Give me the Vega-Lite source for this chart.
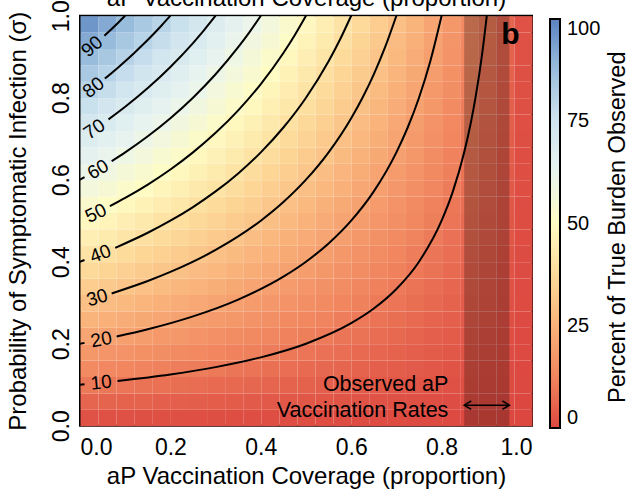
{
"$schema":"https://vega.github.io/schema/vega-lite/v6.json",
"width":452,"height":410,
"autosize":{"type":"none"},
"padding":{"left":80,"top":15.7,"right":99,"bottom":64.3},
"config":{"font":"Liberation Sans","view":{"stroke":"black","strokeWidth":2},
"axis":{"grid":false,"ticks":false,"tickSize":0,"domain":false,"labelColor":"black","titleColor":"black","titleFontWeight":"normal"}},
"datasets":{
"grid":[
{"x":0,"y":0,"v":2},{"x":0.04,"y":0,"v":1.9},{"x":0.08,"y":0,"v":1.8},{"x":0.12,"y":0,"v":1.7},{"x":0.16,"y":0,"v":1.6},{"x":0.2,"y":0,"v":1.6},{"x":0.24,"y":0,"v":1.5},{"x":0.28,"y":0,"v":1.4},{"x":0.32,"y":0,"v":1.3},{"x":0.36,"y":0,"v":1.2},{"x":0.4,"y":0,"v":1.2},{"x":0.44,"y":0,"v":1.1},{"x":0.48,"y":0,"v":1},{"x":0.52,"y":0,"v":0.9},{"x":0.56,"y":0,"v":0.8},{"x":0.6,"y":0,"v":0.8},{"x":0.64,"y":0,"v":0.7},{"x":0.68,"y":0,"v":0.6},{"x":0.72,"y":0,"v":0.5},{"x":0.76,"y":0,"v":0.4},{"x":0.8,"y":0,"v":0.4},{"x":0.84,"y":0,"v":0.3},{"x":0.88,"y":0,"v":0.2},{"x":0.92,"y":0,"v":0.1},{"x":0.96,"y":0,"v":0},
{"x":0,"y":0.04,"v":5.9},{"x":0.04,"y":0.04,"v":5.6},{"x":0.08,"y":0.04,"v":5.4},{"x":0.12,"y":0.04,"v":5.2},{"x":0.16,"y":0.04,"v":4.9},{"x":0.2,"y":0.04,"v":4.7},{"x":0.24,"y":0.04,"v":4.4},{"x":0.28,"y":0.04,"v":4.2},{"x":0.32,"y":0.04,"v":4},{"x":0.36,"y":0.04,"v":3.7},{"x":0.4,"y":0.04,"v":3.5},{"x":0.44,"y":0.04,"v":3.2},{"x":0.48,"y":0.04,"v":3},{"x":0.52,"y":0.04,"v":2.8},{"x":0.56,"y":0.04,"v":2.5},{"x":0.6,"y":0.04,"v":2.3},{"x":0.64,"y":0.04,"v":2},{"x":0.68,"y":0.04,"v":1.8},{"x":0.72,"y":0.04,"v":1.6},{"x":0.76,"y":0.04,"v":1.3},{"x":0.8,"y":0.04,"v":1.1},{"x":0.84,"y":0.04,"v":0.8},{"x":0.88,"y":0.04,"v":0.6},{"x":0.92,"y":0.04,"v":0.4},{"x":0.96,"y":0.04,"v":0.1},
{"x":0,"y":0.08,"v":9.8},{"x":0.04,"y":0.08,"v":9.4},{"x":0.08,"y":0.08,"v":9},{"x":0.12,"y":0.08,"v":8.6},{"x":0.16,"y":0.08,"v":8.2},{"x":0.2,"y":0.08,"v":7.8},{"x":0.24,"y":0.08,"v":7.4},{"x":0.28,"y":0.08,"v":7},{"x":0.32,"y":0.08,"v":6.6},{"x":0.36,"y":0.08,"v":6.2},{"x":0.4,"y":0.08,"v":5.8},{"x":0.44,"y":0.08,"v":5.4},{"x":0.48,"y":0.08,"v":5},{"x":0.52,"y":0.08,"v":4.6},{"x":0.56,"y":0.08,"v":4.2},{"x":0.6,"y":0.08,"v":3.8},{"x":0.64,"y":0.08,"v":3.4},{"x":0.68,"y":0.08,"v":3},{"x":0.72,"y":0.08,"v":2.6},{"x":0.76,"y":0.08,"v":2.2},{"x":0.8,"y":0.08,"v":1.8},{"x":0.84,"y":0.08,"v":1.4},{"x":0.88,"y":0.08,"v":1},{"x":0.92,"y":0.08,"v":0.6},{"x":0.96,"y":0.08,"v":0.2},
{"x":0,"y":0.12,"v":13.7},{"x":0.04,"y":0.12,"v":13.2},{"x":0.08,"y":0.12,"v":12.6},{"x":0.12,"y":0.12,"v":12},{"x":0.16,"y":0.12,"v":11.5},{"x":0.2,"y":0.12,"v":10.9},{"x":0.24,"y":0.12,"v":10.4},{"x":0.28,"y":0.12,"v":9.8},{"x":0.32,"y":0.12,"v":9.2},{"x":0.36,"y":0.12,"v":8.7},{"x":0.4,"y":0.12,"v":8.1},{"x":0.44,"y":0.12,"v":7.6},{"x":0.48,"y":0.12,"v":7},{"x":0.52,"y":0.12,"v":6.4},{"x":0.56,"y":0.12,"v":5.9},{"x":0.6,"y":0.12,"v":5.3},{"x":0.64,"y":0.12,"v":4.8},{"x":0.68,"y":0.12,"v":4.2},{"x":0.72,"y":0.12,"v":3.6},{"x":0.76,"y":0.12,"v":3.1},{"x":0.8,"y":0.12,"v":2.5},{"x":0.84,"y":0.12,"v":2},{"x":0.88,"y":0.12,"v":1.4},{"x":0.92,"y":0.12,"v":0.8},{"x":0.96,"y":0.12,"v":0.3},
{"x":0,"y":0.16,"v":17.6},{"x":0.04,"y":0.16,"v":16.9},{"x":0.08,"y":0.16,"v":16.2},{"x":0.12,"y":0.16,"v":15.5},{"x":0.16,"y":0.16,"v":14.8},{"x":0.2,"y":0.16,"v":14},{"x":0.24,"y":0.16,"v":13.3},{"x":0.28,"y":0.16,"v":12.6},{"x":0.32,"y":0.16,"v":11.9},{"x":0.36,"y":0.16,"v":11.2},{"x":0.4,"y":0.16,"v":10.4},{"x":0.44,"y":0.16,"v":9.7},{"x":0.48,"y":0.16,"v":9},{"x":0.52,"y":0.16,"v":8.3},{"x":0.56,"y":0.16,"v":7.6},{"x":0.6,"y":0.16,"v":6.8},{"x":0.64,"y":0.16,"v":6.1},{"x":0.68,"y":0.16,"v":5.4},{"x":0.72,"y":0.16,"v":4.7},{"x":0.76,"y":0.16,"v":4},{"x":0.8,"y":0.16,"v":3.2},{"x":0.84,"y":0.16,"v":2.5},{"x":0.88,"y":0.16,"v":1.8},{"x":0.92,"y":0.16,"v":1.1},{"x":0.96,"y":0.16,"v":0.4},
{"x":0,"y":0.2,"v":21.6},{"x":0.04,"y":0.2,"v":20.7},{"x":0.08,"y":0.2,"v":19.8},{"x":0.12,"y":0.2,"v":18.9},{"x":0.16,"y":0.2,"v":18},{"x":0.2,"y":0.2,"v":17.2},{"x":0.24,"y":0.2,"v":16.3},{"x":0.28,"y":0.2,"v":15.4},{"x":0.32,"y":0.2,"v":14.5},{"x":0.36,"y":0.2,"v":13.6},{"x":0.4,"y":0.2,"v":12.8},{"x":0.44,"y":0.2,"v":11.9},{"x":0.48,"y":0.2,"v":11},{"x":0.52,"y":0.2,"v":10.1},{"x":0.56,"y":0.2,"v":9.2},{"x":0.6,"y":0.2,"v":8.4},{"x":0.64,"y":0.2,"v":7.5},{"x":0.68,"y":0.2,"v":6.6},{"x":0.72,"y":0.2,"v":5.7},{"x":0.76,"y":0.2,"v":4.8},{"x":0.8,"y":0.2,"v":4},{"x":0.84,"y":0.2,"v":3.1},{"x":0.88,"y":0.2,"v":2.2},{"x":0.92,"y":0.2,"v":1.3},{"x":0.96,"y":0.2,"v":0.4},
{"x":0,"y":0.24,"v":25.5},{"x":0.04,"y":0.24,"v":24.4},{"x":0.08,"y":0.24,"v":23.4},{"x":0.12,"y":0.24,"v":22.4},{"x":0.16,"y":0.24,"v":21.3},{"x":0.2,"y":0.24,"v":20.3},{"x":0.24,"y":0.24,"v":19.2},{"x":0.28,"y":0.24,"v":18.2},{"x":0.32,"y":0.24,"v":17.2},{"x":0.36,"y":0.24,"v":16.1},{"x":0.4,"y":0.24,"v":15.1},{"x":0.44,"y":0.24,"v":14},{"x":0.48,"y":0.24,"v":13},{"x":0.52,"y":0.24,"v":12},{"x":0.56,"y":0.24,"v":10.9},{"x":0.6,"y":0.24,"v":9.9},{"x":0.64,"y":0.24,"v":8.8},{"x":0.68,"y":0.24,"v":7.8},{"x":0.72,"y":0.24,"v":6.8},{"x":0.76,"y":0.24,"v":5.7},{"x":0.8,"y":0.24,"v":4.7},{"x":0.84,"y":0.24,"v":3.6},{"x":0.88,"y":0.24,"v":2.6},{"x":0.92,"y":0.24,"v":1.6},{"x":0.96,"y":0.24,"v":0.5},
{"x":0,"y":0.28,"v":29.4},{"x":0.04,"y":0.28,"v":28.2},{"x":0.08,"y":0.28,"v":27},{"x":0.12,"y":0.28,"v":25.8},{"x":0.16,"y":0.28,"v":24.6},{"x":0.2,"y":0.28,"v":23.4},{"x":0.24,"y":0.28,"v":22.2},{"x":0.28,"y":0.28,"v":21},{"x":0.32,"y":0.28,"v":19.8},{"x":0.36,"y":0.28,"v":18.6},{"x":0.4,"y":0.28,"v":17.4},{"x":0.44,"y":0.28,"v":16.2},{"x":0.48,"y":0.28,"v":15},{"x":0.52,"y":0.28,"v":13.8},{"x":0.56,"y":0.28,"v":12.6},{"x":0.6,"y":0.28,"v":11.4},{"x":0.64,"y":0.28,"v":10.2},{"x":0.68,"y":0.28,"v":9},{"x":0.72,"y":0.28,"v":7.8},{"x":0.76,"y":0.28,"v":6.6},{"x":0.8,"y":0.28,"v":5.4},{"x":0.84,"y":0.28,"v":4.2},{"x":0.88,"y":0.28,"v":3},{"x":0.92,"y":0.28,"v":1.8},{"x":0.96,"y":0.28,"v":0.6},
{"x":0,"y":0.32,"v":33.3},{"x":0.04,"y":0.32,"v":32},{"x":0.08,"y":0.32,"v":30.6},{"x":0.12,"y":0.32,"v":29.2},{"x":0.16,"y":0.32,"v":27.9},{"x":0.2,"y":0.32,"v":26.5},{"x":0.24,"y":0.32,"v":25.2},{"x":0.28,"y":0.32,"v":23.8},{"x":0.32,"y":0.32,"v":22.4},{"x":0.36,"y":0.32,"v":21.1},{"x":0.4,"y":0.32,"v":19.7},{"x":0.44,"y":0.32,"v":18.4},{"x":0.48,"y":0.32,"v":17},{"x":0.52,"y":0.32,"v":15.6},{"x":0.56,"y":0.32,"v":14.3},{"x":0.6,"y":0.32,"v":12.9},{"x":0.64,"y":0.32,"v":11.6},{"x":0.68,"y":0.32,"v":10.2},{"x":0.72,"y":0.32,"v":8.8},{"x":0.76,"y":0.32,"v":7.5},{"x":0.8,"y":0.32,"v":6.1},{"x":0.84,"y":0.32,"v":4.8},{"x":0.88,"y":0.32,"v":3.4},{"x":0.92,"y":0.32,"v":2},{"x":0.96,"y":0.32,"v":0.7},
{"x":0,"y":0.36,"v":37.2},{"x":0.04,"y":0.36,"v":35.7},{"x":0.08,"y":0.36,"v":34.2},{"x":0.12,"y":0.36,"v":32.7},{"x":0.16,"y":0.36,"v":31.2},{"x":0.2,"y":0.36,"v":29.6},{"x":0.24,"y":0.36,"v":28.1},{"x":0.28,"y":0.36,"v":26.6},{"x":0.32,"y":0.36,"v":25.1},{"x":0.36,"y":0.36,"v":23.6},{"x":0.4,"y":0.36,"v":22},{"x":0.44,"y":0.36,"v":20.5},{"x":0.48,"y":0.36,"v":19},{"x":0.52,"y":0.36,"v":17.5},{"x":0.56,"y":0.36,"v":16},{"x":0.6,"y":0.36,"v":14.4},{"x":0.64,"y":0.36,"v":12.9},{"x":0.68,"y":0.36,"v":11.4},{"x":0.72,"y":0.36,"v":9.9},{"x":0.76,"y":0.36,"v":8.4},{"x":0.8,"y":0.36,"v":6.8},{"x":0.84,"y":0.36,"v":5.3},{"x":0.88,"y":0.36,"v":3.8},{"x":0.92,"y":0.36,"v":2.3},{"x":0.96,"y":0.36,"v":0.8},
{"x":0,"y":0.4,"v":41.2},{"x":0.04,"y":0.4,"v":39.5},{"x":0.08,"y":0.4,"v":37.8},{"x":0.12,"y":0.4,"v":36.1},{"x":0.16,"y":0.4,"v":34.4},{"x":0.2,"y":0.4,"v":32.8},{"x":0.24,"y":0.4,"v":31.1},{"x":0.28,"y":0.4,"v":29.4},{"x":0.32,"y":0.4,"v":27.7},{"x":0.36,"y":0.4,"v":26},{"x":0.4,"y":0.4,"v":24.4},{"x":0.44,"y":0.4,"v":22.7},{"x":0.48,"y":0.4,"v":21},{"x":0.52,"y":0.4,"v":19.3},{"x":0.56,"y":0.4,"v":17.6},{"x":0.6,"y":0.4,"v":16},{"x":0.64,"y":0.4,"v":14.3},{"x":0.68,"y":0.4,"v":12.6},{"x":0.72,"y":0.4,"v":10.9},{"x":0.76,"y":0.4,"v":9.2},{"x":0.8,"y":0.4,"v":7.6},{"x":0.84,"y":0.4,"v":5.9},{"x":0.88,"y":0.4,"v":4.2},{"x":0.92,"y":0.4,"v":2.5},{"x":0.96,"y":0.4,"v":0.8},
{"x":0,"y":0.44,"v":45.1},{"x":0.04,"y":0.44,"v":43.2},{"x":0.08,"y":0.44,"v":41.4},{"x":0.12,"y":0.44,"v":39.6},{"x":0.16,"y":0.44,"v":37.7},{"x":0.2,"y":0.44,"v":35.9},{"x":0.24,"y":0.44,"v":34},{"x":0.28,"y":0.44,"v":32.2},{"x":0.32,"y":0.44,"v":30.4},{"x":0.36,"y":0.44,"v":28.5},{"x":0.4,"y":0.44,"v":26.7},{"x":0.44,"y":0.44,"v":24.8},{"x":0.48,"y":0.44,"v":23},{"x":0.52,"y":0.44,"v":21.2},{"x":0.56,"y":0.44,"v":19.3},{"x":0.6,"y":0.44,"v":17.5},{"x":0.64,"y":0.44,"v":15.6},{"x":0.68,"y":0.44,"v":13.8},{"x":0.72,"y":0.44,"v":12},{"x":0.76,"y":0.44,"v":10.1},{"x":0.8,"y":0.44,"v":8.3},{"x":0.84,"y":0.44,"v":6.4},{"x":0.88,"y":0.44,"v":4.6},{"x":0.92,"y":0.44,"v":2.8},{"x":0.96,"y":0.44,"v":0.9},
{"x":0,"y":0.48,"v":49},{"x":0.04,"y":0.48,"v":47},{"x":0.08,"y":0.48,"v":45},{"x":0.12,"y":0.48,"v":43},{"x":0.16,"y":0.48,"v":41},{"x":0.2,"y":0.48,"v":39},{"x":0.24,"y":0.48,"v":37},{"x":0.28,"y":0.48,"v":35},{"x":0.32,"y":0.48,"v":33},{"x":0.36,"y":0.48,"v":31},{"x":0.4,"y":0.48,"v":29},{"x":0.44,"y":0.48,"v":27},{"x":0.48,"y":0.48,"v":25},{"x":0.52,"y":0.48,"v":23},{"x":0.56,"y":0.48,"v":21},{"x":0.6,"y":0.48,"v":19},{"x":0.64,"y":0.48,"v":17},{"x":0.68,"y":0.48,"v":15},{"x":0.72,"y":0.48,"v":13},{"x":0.76,"y":0.48,"v":11},{"x":0.8,"y":0.48,"v":9},{"x":0.84,"y":0.48,"v":7},{"x":0.88,"y":0.48,"v":5},{"x":0.92,"y":0.48,"v":3},{"x":0.96,"y":0.48,"v":1},
{"x":0,"y":0.52,"v":52.9},{"x":0.04,"y":0.52,"v":50.8},{"x":0.08,"y":0.52,"v":48.6},{"x":0.12,"y":0.52,"v":46.4},{"x":0.16,"y":0.52,"v":44.3},{"x":0.2,"y":0.52,"v":42.1},{"x":0.24,"y":0.52,"v":40},{"x":0.28,"y":0.52,"v":37.8},{"x":0.32,"y":0.52,"v":35.6},{"x":0.36,"y":0.52,"v":33.5},{"x":0.4,"y":0.52,"v":31.3},{"x":0.44,"y":0.52,"v":29.2},{"x":0.48,"y":0.52,"v":27},{"x":0.52,"y":0.52,"v":24.8},{"x":0.56,"y":0.52,"v":22.7},{"x":0.6,"y":0.52,"v":20.5},{"x":0.64,"y":0.52,"v":18.4},{"x":0.68,"y":0.52,"v":16.2},{"x":0.72,"y":0.52,"v":14},{"x":0.76,"y":0.52,"v":11.9},{"x":0.8,"y":0.52,"v":9.7},{"x":0.84,"y":0.52,"v":7.6},{"x":0.88,"y":0.52,"v":5.4},{"x":0.92,"y":0.52,"v":3.2},{"x":0.96,"y":0.52,"v":1.1},
{"x":0,"y":0.56,"v":56.8},{"x":0.04,"y":0.56,"v":54.5},{"x":0.08,"y":0.56,"v":52.2},{"x":0.12,"y":0.56,"v":49.9},{"x":0.16,"y":0.56,"v":47.6},{"x":0.2,"y":0.56,"v":45.2},{"x":0.24,"y":0.56,"v":42.9},{"x":0.28,"y":0.56,"v":40.6},{"x":0.32,"y":0.56,"v":38.3},{"x":0.36,"y":0.56,"v":36},{"x":0.4,"y":0.56,"v":33.6},{"x":0.44,"y":0.56,"v":31.3},{"x":0.48,"y":0.56,"v":29},{"x":0.52,"y":0.56,"v":26.7},{"x":0.56,"y":0.56,"v":24.4},{"x":0.6,"y":0.56,"v":22},{"x":0.64,"y":0.56,"v":19.7},{"x":0.68,"y":0.56,"v":17.4},{"x":0.72,"y":0.56,"v":15.1},{"x":0.76,"y":0.56,"v":12.8},{"x":0.8,"y":0.56,"v":10.4},{"x":0.84,"y":0.56,"v":8.1},{"x":0.88,"y":0.56,"v":5.8},{"x":0.92,"y":0.56,"v":3.5},{"x":0.96,"y":0.56,"v":1.2},
{"x":0,"y":0.6,"v":60.8},{"x":0.04,"y":0.6,"v":58.3},{"x":0.08,"y":0.6,"v":55.8},{"x":0.12,"y":0.6,"v":53.3},{"x":0.16,"y":0.6,"v":50.8},{"x":0.2,"y":0.6,"v":48.4},{"x":0.24,"y":0.6,"v":45.9},{"x":0.28,"y":0.6,"v":43.4},{"x":0.32,"y":0.6,"v":40.9},{"x":0.36,"y":0.6,"v":38.4},{"x":0.4,"y":0.6,"v":36},{"x":0.44,"y":0.6,"v":33.5},{"x":0.48,"y":0.6,"v":31},{"x":0.52,"y":0.6,"v":28.5},{"x":0.56,"y":0.6,"v":26},{"x":0.6,"y":0.6,"v":23.6},{"x":0.64,"y":0.6,"v":21.1},{"x":0.68,"y":0.6,"v":18.6},{"x":0.72,"y":0.6,"v":16.1},{"x":0.76,"y":0.6,"v":13.6},{"x":0.8,"y":0.6,"v":11.2},{"x":0.84,"y":0.6,"v":8.7},{"x":0.88,"y":0.6,"v":6.2},{"x":0.92,"y":0.6,"v":3.7},{"x":0.96,"y":0.6,"v":1.2},
{"x":0,"y":0.64,"v":64.7},{"x":0.04,"y":0.64,"v":62},{"x":0.08,"y":0.64,"v":59.4},{"x":0.12,"y":0.64,"v":56.8},{"x":0.16,"y":0.64,"v":54.1},{"x":0.2,"y":0.64,"v":51.5},{"x":0.24,"y":0.64,"v":48.8},{"x":0.28,"y":0.64,"v":46.2},{"x":0.32,"y":0.64,"v":43.6},{"x":0.36,"y":0.64,"v":40.9},{"x":0.4,"y":0.64,"v":38.3},{"x":0.44,"y":0.64,"v":35.6},{"x":0.48,"y":0.64,"v":33},{"x":0.52,"y":0.64,"v":30.4},{"x":0.56,"y":0.64,"v":27.7},{"x":0.6,"y":0.64,"v":25.1},{"x":0.64,"y":0.64,"v":22.4},{"x":0.68,"y":0.64,"v":19.8},{"x":0.72,"y":0.64,"v":17.2},{"x":0.76,"y":0.64,"v":14.5},{"x":0.8,"y":0.64,"v":11.9},{"x":0.84,"y":0.64,"v":9.2},{"x":0.88,"y":0.64,"v":6.6},{"x":0.92,"y":0.64,"v":4},{"x":0.96,"y":0.64,"v":1.3},
{"x":0,"y":0.68,"v":68.6},{"x":0.04,"y":0.68,"v":65.8},{"x":0.08,"y":0.68,"v":63},{"x":0.12,"y":0.68,"v":60.2},{"x":0.16,"y":0.68,"v":57.4},{"x":0.2,"y":0.68,"v":54.6},{"x":0.24,"y":0.68,"v":51.8},{"x":0.28,"y":0.68,"v":49},{"x":0.32,"y":0.68,"v":46.2},{"x":0.36,"y":0.68,"v":43.4},{"x":0.4,"y":0.68,"v":40.6},{"x":0.44,"y":0.68,"v":37.8},{"x":0.48,"y":0.68,"v":35},{"x":0.52,"y":0.68,"v":32.2},{"x":0.56,"y":0.68,"v":29.4},{"x":0.6,"y":0.68,"v":26.6},{"x":0.64,"y":0.68,"v":23.8},{"x":0.68,"y":0.68,"v":21},{"x":0.72,"y":0.68,"v":18.2},{"x":0.76,"y":0.68,"v":15.4},{"x":0.8,"y":0.68,"v":12.6},{"x":0.84,"y":0.68,"v":9.8},{"x":0.88,"y":0.68,"v":7},{"x":0.92,"y":0.68,"v":4.2},{"x":0.96,"y":0.68,"v":1.4},
{"x":0,"y":0.72,"v":72.5},{"x":0.04,"y":0.72,"v":69.6},{"x":0.08,"y":0.72,"v":66.6},{"x":0.12,"y":0.72,"v":63.6},{"x":0.16,"y":0.72,"v":60.7},{"x":0.2,"y":0.72,"v":57.7},{"x":0.24,"y":0.72,"v":54.8},{"x":0.28,"y":0.72,"v":51.8},{"x":0.32,"y":0.72,"v":48.8},{"x":0.36,"y":0.72,"v":45.9},{"x":0.4,"y":0.72,"v":42.9},{"x":0.44,"y":0.72,"v":40},{"x":0.48,"y":0.72,"v":37},{"x":0.52,"y":0.72,"v":34},{"x":0.56,"y":0.72,"v":31.1},{"x":0.6,"y":0.72,"v":28.1},{"x":0.64,"y":0.72,"v":25.2},{"x":0.68,"y":0.72,"v":22.2},{"x":0.72,"y":0.72,"v":19.2},{"x":0.76,"y":0.72,"v":16.3},{"x":0.8,"y":0.72,"v":13.3},{"x":0.84,"y":0.72,"v":10.4},{"x":0.88,"y":0.72,"v":7.4},{"x":0.92,"y":0.72,"v":4.4},{"x":0.96,"y":0.72,"v":1.5},
{"x":0,"y":0.76,"v":76.4},{"x":0.04,"y":0.76,"v":73.3},{"x":0.08,"y":0.76,"v":70.2},{"x":0.12,"y":0.76,"v":67.1},{"x":0.16,"y":0.76,"v":64},{"x":0.2,"y":0.76,"v":60.8},{"x":0.24,"y":0.76,"v":57.7},{"x":0.28,"y":0.76,"v":54.6},{"x":0.32,"y":0.76,"v":51.5},{"x":0.36,"y":0.76,"v":48.4},{"x":0.4,"y":0.76,"v":45.2},{"x":0.44,"y":0.76,"v":42.1},{"x":0.48,"y":0.76,"v":39},{"x":0.52,"y":0.76,"v":35.9},{"x":0.56,"y":0.76,"v":32.8},{"x":0.6,"y":0.76,"v":29.6},{"x":0.64,"y":0.76,"v":26.5},{"x":0.68,"y":0.76,"v":23.4},{"x":0.72,"y":0.76,"v":20.3},{"x":0.76,"y":0.76,"v":17.2},{"x":0.8,"y":0.76,"v":14},{"x":0.84,"y":0.76,"v":10.9},{"x":0.88,"y":0.76,"v":7.8},{"x":0.92,"y":0.76,"v":4.7},{"x":0.96,"y":0.76,"v":1.6},
{"x":0,"y":0.8,"v":80.4},{"x":0.04,"y":0.8,"v":77.1},{"x":0.08,"y":0.8,"v":73.8},{"x":0.12,"y":0.8,"v":70.5},{"x":0.16,"y":0.8,"v":67.2},{"x":0.2,"y":0.8,"v":64},{"x":0.24,"y":0.8,"v":60.7},{"x":0.28,"y":0.8,"v":57.4},{"x":0.32,"y":0.8,"v":54.1},{"x":0.36,"y":0.8,"v":50.8},{"x":0.4,"y":0.8,"v":47.6},{"x":0.44,"y":0.8,"v":44.3},{"x":0.48,"y":0.8,"v":41},{"x":0.52,"y":0.8,"v":37.7},{"x":0.56,"y":0.8,"v":34.4},{"x":0.6,"y":0.8,"v":31.2},{"x":0.64,"y":0.8,"v":27.9},{"x":0.68,"y":0.8,"v":24.6},{"x":0.72,"y":0.8,"v":21.3},{"x":0.76,"y":0.8,"v":18},{"x":0.8,"y":0.8,"v":14.8},{"x":0.84,"y":0.8,"v":11.5},{"x":0.88,"y":0.8,"v":8.2},{"x":0.92,"y":0.8,"v":4.9},{"x":0.96,"y":0.8,"v":1.6},
{"x":0,"y":0.84,"v":84.3},{"x":0.04,"y":0.84,"v":80.8},{"x":0.08,"y":0.84,"v":77.4},{"x":0.12,"y":0.84,"v":74},{"x":0.16,"y":0.84,"v":70.5},{"x":0.2,"y":0.84,"v":67.1},{"x":0.24,"y":0.84,"v":63.6},{"x":0.28,"y":0.84,"v":60.2},{"x":0.32,"y":0.84,"v":56.8},{"x":0.36,"y":0.84,"v":53.3},{"x":0.4,"y":0.84,"v":49.9},{"x":0.44,"y":0.84,"v":46.4},{"x":0.48,"y":0.84,"v":43},{"x":0.52,"y":0.84,"v":39.6},{"x":0.56,"y":0.84,"v":36.1},{"x":0.6,"y":0.84,"v":32.7},{"x":0.64,"y":0.84,"v":29.2},{"x":0.68,"y":0.84,"v":25.8},{"x":0.72,"y":0.84,"v":22.4},{"x":0.76,"y":0.84,"v":18.9},{"x":0.8,"y":0.84,"v":15.5},{"x":0.84,"y":0.84,"v":12},{"x":0.88,"y":0.84,"v":8.6},{"x":0.92,"y":0.84,"v":5.2},{"x":0.96,"y":0.84,"v":1.7},
{"x":0,"y":0.88,"v":88.2},{"x":0.04,"y":0.88,"v":84.6},{"x":0.08,"y":0.88,"v":81},{"x":0.12,"y":0.88,"v":77.4},{"x":0.16,"y":0.88,"v":73.8},{"x":0.2,"y":0.88,"v":70.2},{"x":0.24,"y":0.88,"v":66.6},{"x":0.28,"y":0.88,"v":63},{"x":0.32,"y":0.88,"v":59.4},{"x":0.36,"y":0.88,"v":55.8},{"x":0.4,"y":0.88,"v":52.2},{"x":0.44,"y":0.88,"v":48.6},{"x":0.48,"y":0.88,"v":45},{"x":0.52,"y":0.88,"v":41.4},{"x":0.56,"y":0.88,"v":37.8},{"x":0.6,"y":0.88,"v":34.2},{"x":0.64,"y":0.88,"v":30.6},{"x":0.68,"y":0.88,"v":27},{"x":0.72,"y":0.88,"v":23.4},{"x":0.76,"y":0.88,"v":19.8},{"x":0.8,"y":0.88,"v":16.2},{"x":0.84,"y":0.88,"v":12.6},{"x":0.88,"y":0.88,"v":9},{"x":0.92,"y":0.88,"v":5.4},{"x":0.96,"y":0.88,"v":1.8},
{"x":0,"y":0.92,"v":92.1},{"x":0.04,"y":0.92,"v":88.4},{"x":0.08,"y":0.92,"v":84.6},{"x":0.12,"y":0.92,"v":80.8},{"x":0.16,"y":0.92,"v":77.1},{"x":0.2,"y":0.92,"v":73.3},{"x":0.24,"y":0.92,"v":69.6},{"x":0.28,"y":0.92,"v":65.8},{"x":0.32,"y":0.92,"v":62},{"x":0.36,"y":0.92,"v":58.3},{"x":0.4,"y":0.92,"v":54.5},{"x":0.44,"y":0.92,"v":50.8},{"x":0.48,"y":0.92,"v":47},{"x":0.52,"y":0.92,"v":43.2},{"x":0.56,"y":0.92,"v":39.5},{"x":0.6,"y":0.92,"v":35.7},{"x":0.64,"y":0.92,"v":32},{"x":0.68,"y":0.92,"v":28.2},{"x":0.72,"y":0.92,"v":24.4},{"x":0.76,"y":0.92,"v":20.7},{"x":0.8,"y":0.92,"v":16.9},{"x":0.84,"y":0.92,"v":13.2},{"x":0.88,"y":0.92,"v":9.4},{"x":0.92,"y":0.92,"v":5.6},{"x":0.96,"y":0.92,"v":1.9},
{"x":0,"y":0.96,"v":96},{"x":0.04,"y":0.96,"v":92.1},{"x":0.08,"y":0.96,"v":88.2},{"x":0.12,"y":0.96,"v":84.3},{"x":0.16,"y":0.96,"v":80.4},{"x":0.2,"y":0.96,"v":76.4},{"x":0.24,"y":0.96,"v":72.5},{"x":0.28,"y":0.96,"v":68.6},{"x":0.32,"y":0.96,"v":64.7},{"x":0.36,"y":0.96,"v":60.8},{"x":0.4,"y":0.96,"v":56.8},{"x":0.44,"y":0.96,"v":52.9},{"x":0.48,"y":0.96,"v":49},{"x":0.52,"y":0.96,"v":45.1},{"x":0.56,"y":0.96,"v":41.2},{"x":0.6,"y":0.96,"v":37.2},{"x":0.64,"y":0.96,"v":33.3},{"x":0.68,"y":0.96,"v":29.4},{"x":0.72,"y":0.96,"v":25.5},{"x":0.76,"y":0.96,"v":21.6},{"x":0.8,"y":0.96,"v":17.6},{"x":0.84,"y":0.96,"v":13.7},{"x":0.88,"y":0.96,"v":9.8},{"x":0.92,"y":0.96,"v":5.9},{"x":0.96,"y":0.96,"v":2}
],
"contours":[
{"c":"90","x":0.054,"y":0.951},{"c":"90","x":0.07,"y":0.9677},{"c":"90","x":0.085,"y":0.9836},{"c":"90","x":0.1,"y":1},
{"c":"80","x":0.055,"y":0.8466},{"c":"80","x":0.08,"y":0.8696},{"c":"80","x":0.1,"y":0.8889},{"c":"80","x":0.12,"y":0.9091},{"c":"80","x":0.14,"y":0.9302},{"c":"80","x":0.16,"y":0.9524},{"c":"80","x":0.18,"y":0.9756},{"c":"80","x":0.2,"y":1},
{"c":"70","x":0.063,"y":0.7471},{"c":"70","x":0.1,"y":0.7778},{"c":"70","x":0.15,"y":0.8235},{"c":"70","x":0.2,"y":0.875},{"c":"70","x":0.25,"y":0.9333},{"c":"70","x":0.275,"y":0.9655},{"c":"70","x":0.3,"y":1},
{"c":"60s","x":0,"y":0.6},{"c":"60s","x":0.01,"y":0.606},
{"c":"60","x":0.07,"y":0.6452},{"c":"60","x":0.1,"y":0.6667},{"c":"60","x":0.15,"y":0.7059},{"c":"60","x":0.2,"y":0.75},{"c":"60","x":0.25,"y":0.8},{"c":"60","x":0.3,"y":0.8571},{"c":"60","x":0.35,"y":0.9231},{"c":"60","x":0.375,"y":0.96},{"c":"60","x":0.4,"y":1},
{"c":"50","x":0.066,"y":0.5353},{"c":"50","x":0.1,"y":0.5556},{"c":"50","x":0.15,"y":0.5882},{"c":"50","x":0.2,"y":0.625},{"c":"50","x":0.25,"y":0.6667},{"c":"50","x":0.3,"y":0.7143},{"c":"50","x":0.35,"y":0.7692},{"c":"50","x":0.4,"y":0.8333},{"c":"50","x":0.45,"y":0.9091},{"c":"50","x":0.475,"y":0.9524},{"c":"50","x":0.5,"y":1},
{"c":"40s","x":0,"y":0.4},{"c":"40s","x":0.01,"y":0.404},
{"c":"40","x":0.078,"y":0.4338},{"c":"40","x":0.15,"y":0.4706},{"c":"40","x":0.2,"y":0.5},{"c":"40","x":0.25,"y":0.5333},{"c":"40","x":0.3,"y":0.5714},{"c":"40","x":0.35,"y":0.6154},{"c":"40","x":0.4,"y":0.6667},{"c":"40","x":0.45,"y":0.7273},{"c":"40","x":0.5,"y":0.8},{"c":"40","x":0.55,"y":0.8889},{"c":"40","x":0.575,"y":0.9412},{"c":"40","x":0.6,"y":1},
{"c":"30","x":0.07,"y":0.3226},{"c":"30","x":0.15,"y":0.3529},{"c":"30","x":0.2,"y":0.375},{"c":"30","x":0.3,"y":0.4286},{"c":"30","x":0.4,"y":0.5},{"c":"30","x":0.45,"y":0.5455},{"c":"30","x":0.5,"y":0.6},{"c":"30","x":0.55,"y":0.6667},{"c":"30","x":0.6,"y":0.75},{"c":"30","x":0.625,"y":0.8},{"c":"30","x":0.65,"y":0.8571},{"c":"30","x":0.675,"y":0.9231},{"c":"30","x":0.7,"y":1},
{"c":"20s","x":0,"y":0.2},{"c":"20s","x":0.01,"y":0.202},
{"c":"20","x":0.081,"y":0.2176},{"c":"20","x":0.15,"y":0.2353},{"c":"20","x":0.25,"y":0.2667},{"c":"20","x":0.35,"y":0.3077},{"c":"20","x":0.45,"y":0.3636},{"c":"20","x":0.5,"y":0.4},{"c":"20","x":0.55,"y":0.4444},{"c":"20","x":0.6,"y":0.5},{"c":"20","x":0.65,"y":0.5714},{"c":"20","x":0.7,"y":0.6667},{"c":"20","x":0.725,"y":0.7273},{"c":"20","x":0.75,"y":0.8},{"c":"20","x":0.775,"y":0.8889},{"c":"20","x":0.8,"y":1},
{"c":"10s","x":0,"y":0.1},{"c":"10s","x":0.01,"y":0.101},
{"c":"10","x":0.083,"y":0.1091},{"c":"10","x":0.2,"y":0.125},{"c":"10","x":0.3,"y":0.1429},{"c":"10","x":0.4,"y":0.1667},{"c":"10","x":0.5,"y":0.2},{"c":"10","x":0.6,"y":0.25},{"c":"10","x":0.65,"y":0.2857},{"c":"10","x":0.7,"y":0.3333},{"c":"10","x":0.75,"y":0.4},{"c":"10","x":0.8,"y":0.5},{"c":"10","x":0.825,"y":0.5714},{"c":"10","x":0.85,"y":0.6667},{"c":"10","x":0.865,"y":0.7407},{"c":"10","x":0.875,"y":0.8},{"c":"10","x":0.89,"y":0.9091},{"c":"10","x":0.9,"y":1}
],
"labels":[
{"lvl":90,"x":0.027,"y":0.925},{"lvl":80,"x":0.03,"y":0.825},{"lvl":70,"x":0.032,"y":0.723},{"lvl":60,"x":0.04,"y":0.625},{"lvl":50,"x":0.035,"y":0.518},{"lvl":40,"x":0.045,"y":0.419},{"lvl":30,"x":0.038,"y":0.312},{"lvl":20,"x":0.047,"y":0.21},{"lvl":10,"x":0.047,"y":0.105}
]
},
"resolve":{"axis":{"x":"independent","y":"independent"}},
"layer":[
{"data":{"name":"grid"},"mark":{"type":"rect"},
"encoding":{
"x":{"field":"x","type":"quantitative","bin":{"binned":true,"step":0.04},"scale":{"domain":[0,1],"nice":false,"zero":false},
"axis":{"values":[0,0.2,0.4,0.6,0.8,1],"format":".1f","labelFontSize":23,"labelPadding":11,"title":"aP Vaccination Coverage (proportion)","titleFontSize":24,"titlePadding":5}},
"y":{"field":"y","type":"quantitative","bin":{"binned":true,"step":0.04},"scale":{"domain":[0,1],"nice":false,"zero":false},
"axis":{"values":[0,0.2,0.4,0.6,0.8,1],"format":".1f","labelFontSize":23,"labelAngle":270,"labelAlign":"center","labelBaseline":"bottom","labelPadding":7,"title":"Probability of Symptomatic Infection (σ)","titleFontSize":24,"titlePadding":20}},
"color":{"field":"v","type":"quantitative",
"scale":{"domain":[0,12.5,25,37.5,50,62.5,75,87.5,100],"range":["#dc4840","#f1865f","#f9b27a","#fddb9a","#fefbc3","#e9f4ef","#cfe4ef","#9cbfdd","#5a82c0"],"interpolate":"rgb"},
"legend":{"title":null,"orient":"none","legendX":470,"legendY":3.3,"direction":"vertical","gradientLength":409,"gradientThickness":10,"gradientStrokeColor":"black","gradientStrokeWidth":2,"values":[0,25,50,75,100],"labelFontSize":20,"labelOffset":7,"labelBaseline":"middle","labelColor":"black","padding":0}}
}},
{"data":{"values":[{"x":0.85,"x2":0.95,"y":0,"y2":1}]},"mark":{"type":"rect","color":"black","opacity":0.23},
"encoding":{"x":{"field":"x","type":"quantitative","axis":null},"x2":{"field":"x2"},"y":{"field":"y","type":"quantitative","axis":null},"y2":{"field":"y2"}}},
{"data":{"name":"contours"},"mark":{"type":"line","color":"black","strokeWidth":2,"interpolate":"monotone"},
"encoding":{"x":{"field":"x","type":"quantitative","axis":null},"y":{"field":"y","type":"quantitative","axis":null},"detail":{"field":"c"}}},
{"data":{"name":"labels"},"mark":{"type":"text","fontSize":19,"align":"center","baseline":"middle","color":"black"},
"encoding":{"x":{"field":"x","type":"quantitative","axis":null},"y":{"field":"y","type":"quantitative","axis":null},"text":{"field":"lvl"},
"angle":{"field":"lvl","type":"quantitative","scale":{"domain":[10,20,30,40,50,60,70,80,90],"range":[354.5,349,344,339,334.3,330,326,322.4,319.4]}}}},
{"data":{"values":[{"t":"Observed aP","x":0.815,"y":0.1},{"t":"Vaccination Rates","x":0.815,"y":0.036}]},"mark":{"type":"text","fontSize":21.5,"align":"right","baseline":"middle","color":"black"},
"encoding":{"x":{"field":"x","type":"quantitative","axis":null},"y":{"field":"y","type":"quantitative","axis":null},"text":{"field":"t"}}},
{"data":{"values":[{"x":0.85,"x2":0.95,"y":0.05}]},"mark":{"type":"rule","color":"black","strokeWidth":1.5},
"encoding":{"x":{"field":"x","type":"quantitative","axis":null},"x2":{"field":"x2"},"y":{"field":"y","type":"quantitative","axis":null}}},
{"data":{"values":[{"x":0.85,"x2":0.95,"y":0.05}]},"mark":{"type":"point","shape":"M1,-0.6L0,0L1,0.6","filled":false,"stroke":"black","strokeWidth":1.5,"size":196,"opacity":1},
"encoding":{"x":{"field":"x","type":"quantitative","axis":null},"y":{"field":"y","type":"quantitative","axis":null}}},
{"data":{"values":[{"x":0.85,"x2":0.95,"y":0.05}]},"mark":{"type":"point","shape":"M-1,-0.6L0,0L-1,0.6","filled":false,"stroke":"black","strokeWidth":1.5,"size":196,"opacity":1},
"encoding":{"x":{"field":"x2","type":"quantitative","axis":null},"y":{"field":"y","type":"quantitative","axis":null}}},
{"data":{"values":[{"t":"b","x":0.952,"y":0.952}]},"mark":{"type":"text","fontSize":30,"fontWeight":"bold","align":"center","baseline":"middle","color":"black"},
"encoding":{
"x":{"field":"x","type":"quantitative","axis":{"orient":"top","labels":false,"title":"aP Vaccination Coverage (proportion)","titleFontSize":24,"titlePadding":5}},
"y":{"field":"y","type":"quantitative","axis":{"orient":"right","labels":false,"title":"Percent of True Burden Observed","titleFontSize":23.5,"titleAngle":270,"titleBaseline":"top","titlePadding":73,"titleY":211}},
"text":{"field":"t"}}}
]
}
